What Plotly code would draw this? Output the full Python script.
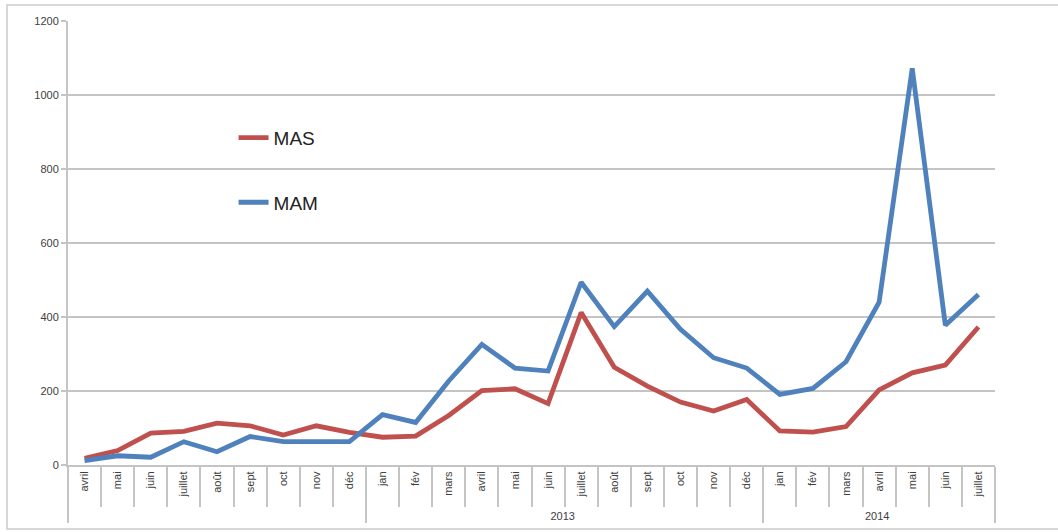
import plotly.graph_objects as go

# Monthly counts, April 2012 to July 2014
years = [" "] * 9 + ["2013"] * 12 + ["2014"] * 7
months = ["avril", "mai", "juin", "juillet", "août", "sept", "oct", "nov", "déc",
          "jan", "fév", "mars", "avril", "mai", "juin", "juillet", "août", "sept", "oct", "nov", "déc",
          "jan", "fév", "mars", "avril", "mai", "juin", "juillet"]
mas = [18, 39, 86, 91, 113, 106, 81, 106, 88,
       75, 78, 134, 201, 206, 166, 412, 264, 213, 170, 146, 177,
       92, 89, 104, 203, 249, 270, 373]
mam = [12, 25, 21, 63, 36, 77, 63, 63, 63,
       136, 115, 227, 326, 262, 254, 494, 374, 470, 367, 290, 262,
       191, 207, 279, 440, 1072, 378, 461]
y_ticks = [0, 200, 400, 600, 800, 1000, 1200]

RED = "#c0504d"
BLUE = "#4f81bd"
GRID = "#c4c4c4"
TXT = "#404040"

# Month names repeat across years; an invisible per-year suffix keeps every
# month label distinct so the multicategory axis keeps chronological order.
year_keys = {" ": "", "2013": "\u200b", "2014": "\u200b\u200b"}
month_labels = [m + year_keys[y] for y, m in zip(years, months)]

fig = go.Figure()
fig.add_trace(go.Scatter(x=[years, month_labels], y=mas, mode="lines", name="MAS",
                         legendgroup="a", line=dict(color=RED, width=4.8)))
fig.add_trace(go.Scatter(x=[years, month_labels], y=mam, mode="lines", name="MAM",
                         legendgroup="b", line=dict(color=BLUE, width=4.8)))

fig.update_layout(
    width=1058, height=532,
    margin=dict(l=68, r=63, t=21, b=67),
    paper_bgcolor="white", plot_bgcolor="white",
    font=dict(family="Liberation Sans, Arial, sans-serif", color=TXT, size=11),
    showlegend=True,
    legend=dict(x=0.1786, y=0.78, xanchor="left", yanchor="top",
                bgcolor="rgba(0,0,0,0)", font=dict(size=19, color="#222"),
                tracegroupgap=37, traceorder="grouped", itemwidth=30),
    xaxis=dict(type="multicategory", range=[-0.5, len(months) - 0.5],
               showline=True, linecolor=GRID, linewidth=2,
               ticks="outside", tickson="boundaries", ticklen=40, tickcolor=GRID,
               tickwidth=2, tickangle=-90, showgrid=False,
               showdividers=True, dividercolor=GRID, dividerwidth=2,
               tickfont=dict(size=11, color=TXT)),
    yaxis=dict(range=[0, 1200], tickvals=y_ticks, showline=True, linecolor=GRID,
               linewidth=2, ticks="outside", ticklen=5, tickcolor=GRID, tickwidth=2,
               showgrid=True, gridcolor=GRID, gridwidth=2, zeroline=False,
               tickfont=dict(size=11, color=TXT)),
)

# Outer chart frame
fig.add_shape(type="rect", xref="paper", yref="paper",
              x0=-61 / 927, x1=1.1, y0=-64 / 444, y1=1 + 16 / 444,
              line=dict(color="#cccccc", width=1.5), layer="below")

fig.write_html("out.html")
